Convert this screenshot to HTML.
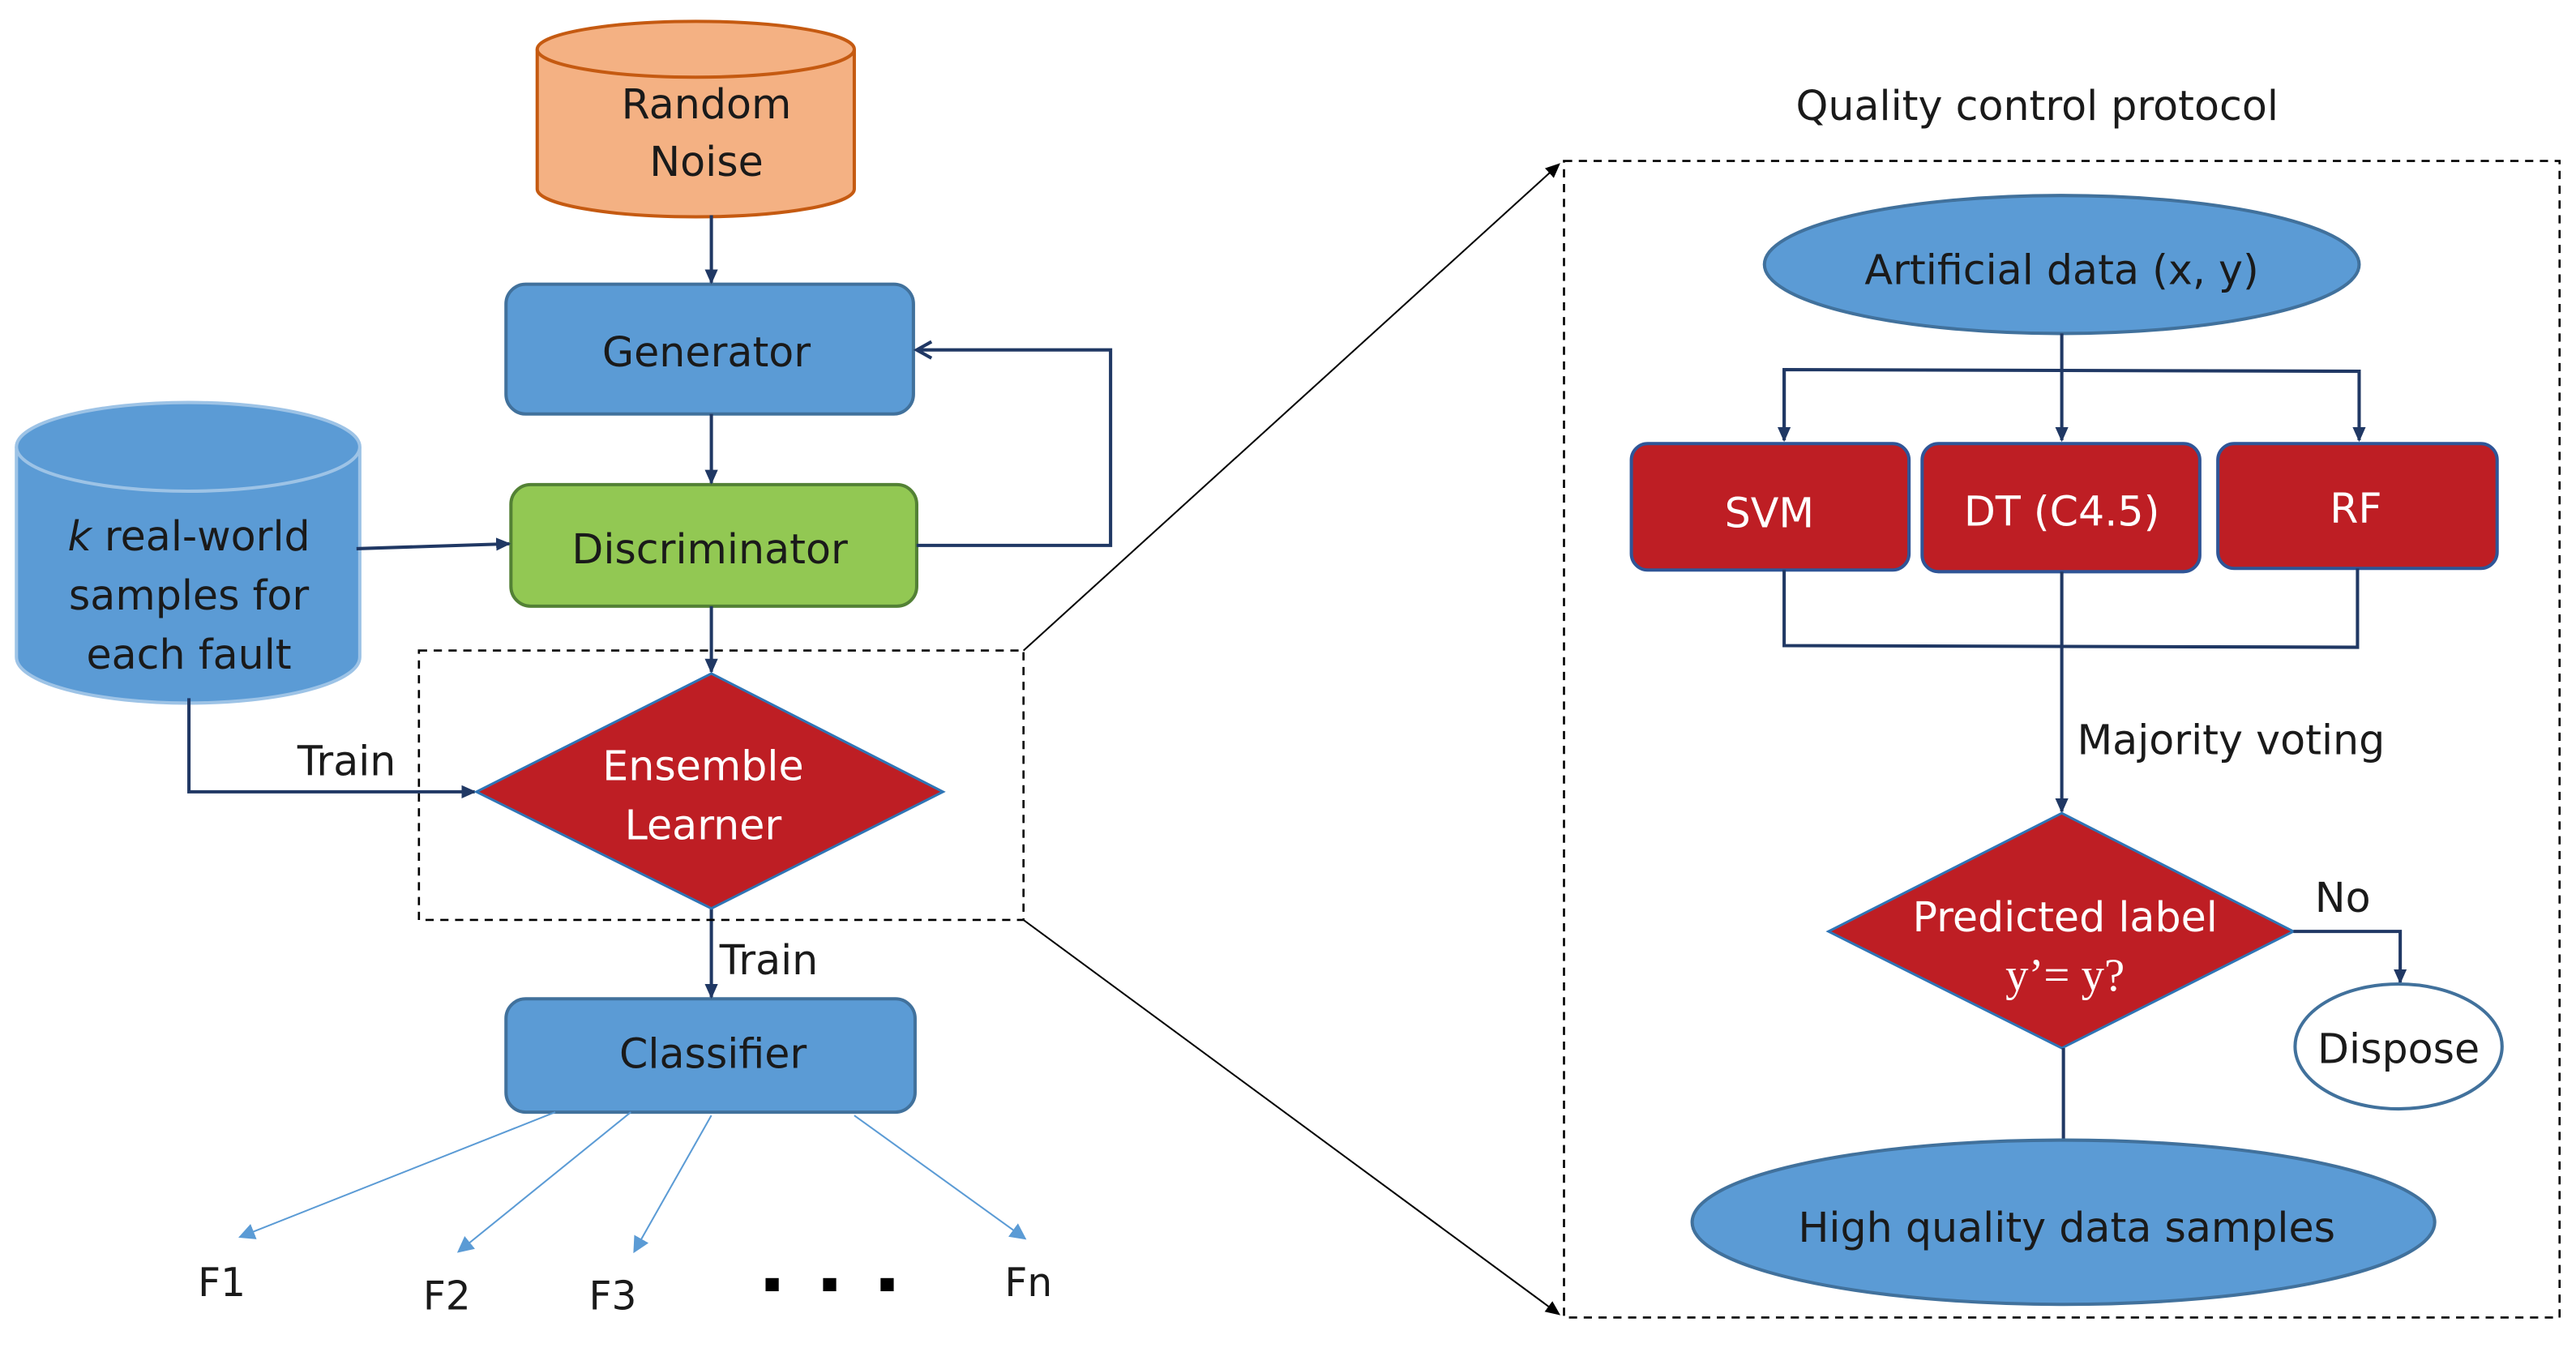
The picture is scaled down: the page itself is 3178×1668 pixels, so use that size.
<!DOCTYPE html>
<html><head><meta charset="utf-8"><style>
html,body{margin:0;padding:0;background:#fff;}
svg{display:block;}
text{font-family:"DejaVu Sans","Liberation Sans",sans-serif;}
</style></head><body>
<svg width="3178" height="1668" viewBox="0 0 1568 823" preserveAspectRatio="none" xmlns="http://www.w3.org/2000/svg">
<defs>
<marker id="a" markerWidth="10" markerHeight="10" refX="8" refY="5" orient="auto" markerUnits="userSpaceOnUse"><path d="M0,1 L9,5 L0,9 Z" fill="#203864"/></marker>
<marker id="o" markerWidth="12" markerHeight="12" refX="10" refY="6" orient="auto" markerUnits="userSpaceOnUse"><path d="M1,1 L10,6 L1,11" fill="none" stroke="#203864" stroke-width="2"/></marker>
<marker id="k" markerWidth="10" markerHeight="10" refX="8" refY="5" orient="auto" markerUnits="userSpaceOnUse"><path d="M0,1 L9,5 L0,9 Z" fill="#000"/></marker>
<marker id="l" markerWidth="12" markerHeight="12" refX="9" refY="6" orient="auto" markerUnits="userSpaceOnUse"><path d="M0,1 L10,6 L0,11 Z" fill="#5B9BD5"/></marker>
</defs>
<g fill="none" stroke="#203864" stroke-width="2">
<path d="M327,30 L327,115 A96.5,17 0 0 0 520,115 L520,30" fill="#F4B183" stroke="#C55A11"/>
<ellipse cx="423.5" cy="30" rx="96.5" ry="17" fill="#F4B183" stroke="#C55A11"/>
<path d="M10,272 L10,400 A104.5,28 0 0 0 219,400 L219,272" fill="#5B9BD5" stroke="#9DC3E6"/>
<ellipse cx="114.5" cy="272" rx="104.5" ry="27" fill="#5B9BD5" stroke="#9DC3E6"/>
<rect x="308" y="173" width="248" height="79" rx="12" fill="#5B9BD5" stroke="#41719C"/>
<rect x="311" y="295" width="247" height="74" rx="12" fill="#92C853" stroke="#538135"/>
<rect x="308" y="608" width="249" height="69" rx="12" fill="#5B9BD5" stroke="#41719C"/>
<line x1="433" y1="131" x2="433" y2="172" marker-end="url(#a)"/>
<line x1="433" y1="252" x2="433" y2="294" marker-end="url(#a)"/>
<line x1="433" y1="369" x2="433" y2="409" marker-end="url(#a)"/>
<line x1="433" y1="553" x2="433" y2="607" marker-end="url(#a)"/>
<polyline points="558,332 676,332 676,213 558,213" marker-end="url(#o)"/>
<line x1="217" y1="334" x2="310" y2="331" marker-end="url(#a)"/>
<polyline points="115,425 115,482 289,482" marker-end="url(#a)"/>
<polygon points="433,410 574,482 433,553 290,482" fill="#BE1E24" stroke="#2E75B6" stroke-width="1.5"/>
<rect x="255" y="396" width="368" height="164" stroke="#000" stroke-width="1.3" stroke-dasharray="5,4"/>
<line x1="623" y1="396" x2="949" y2="100" stroke="#000" stroke-width="1" marker-end="url(#k)"/>
<line x1="623" y1="560" x2="949" y2="800" stroke="#000" stroke-width="1" marker-end="url(#k)"/>
<g stroke="#5B9BD5" stroke-width="1">
<line x1="338" y1="677" x2="146" y2="753" marker-end="url(#l)"/>
<line x1="384" y1="677" x2="279" y2="762" marker-end="url(#l)"/>
<line x1="433" y1="679" x2="386" y2="762" marker-end="url(#l)"/>
<line x1="520" y1="679" x2="624" y2="754" marker-end="url(#l)"/>
</g>
<rect x="952" y="98" width="606" height="704" stroke="#000" stroke-width="1.3" stroke-dasharray="5,4"/>
<ellipse cx="1255" cy="161" rx="181" ry="42" fill="#5B9BD5" stroke="#41719C"/>
<line x1="1255" y1="203" x2="1255" y2="268" marker-end="url(#a)"/>
<polyline points="1086,268 1086,225 1436,226 1436,268" marker-end="url(#a)"/>
<line x1="1086" y1="225" x2="1086" y2="268" marker-end="url(#a)"/>
<rect x="993" y="270" width="169" height="77" rx="10" fill="#BE1E24" stroke="#2F5597"/>
<rect x="1170" y="270" width="169" height="78" rx="10" fill="#BE1E24" stroke="#2F5597"/>
<rect x="1350" y="270" width="170" height="76" rx="10" fill="#BE1E24" stroke="#2F5597"/>
<polyline points="1086,347 1086,393 1435,394 1435,346"/>
<line x1="1255" y1="348" x2="1255" y2="494" marker-end="url(#a)"/>
<polygon points="1255,495 1396,567 1255,638 1113,567" fill="#BE1E24" stroke="#2E75B6" stroke-width="1.5"/>
<polyline points="1396,567 1461,567 1461,598" marker-end="url(#a)"/>
<ellipse cx="1460" cy="637" rx="63" ry="38" fill="#fff" stroke="#41719C"/>
<line x1="1256" y1="638" x2="1256" y2="694"/>
<ellipse cx="1256" cy="744" rx="226" ry="50" fill="#5B9BD5" stroke="#41719C"/>
</g>
<g font-size="25" fill="#1a1a1a" text-anchor="middle">
<text x="430" y="72">Random</text>
<text x="430" y="107">Noise</text>
<text x="430" y="223">Generator</text>
<text x="432" y="343">Discriminator</text>
<text x="115" y="335"><tspan font-style="italic">k</tspan> real-world</text>
<text x="115" y="371">samples for</text>
<text x="115" y="407">each fault</text>
<text x="211" y="472">Train</text>
<text x="468" y="593">Train</text>
<text x="434" y="650">Classifier</text>
<text x="1240" y="73">Quality control protocol</text>
<text x="1255" y="173">Artificial data (x, y)</text>
<text x="1358" y="459">Majority voting</text>
<text x="1426" y="555">No</text>
<text x="1460" y="647">Dispose</text>
<text x="1258" y="756">High quality data samples</text>
</g>
<g font-size="24" fill="#1a1a1a" text-anchor="middle">
<text x="135" y="789">F1</text>
<text x="272" y="797">F2</text>
<text x="373" y="797">F3</text>
<text x="626" y="789">Fn</text>
</g>
<g fill="#000"><rect x="466" y="778" width="8" height="8"/><rect x="501" y="778" width="8" height="8"/><rect x="536" y="778" width="8" height="8"/></g>
<g font-size="25" fill="#fff" text-anchor="middle">
<text x="428" y="475">Ensemble</text>
<text x="428" y="511">Learner</text>
<text x="1077" y="321">SVM</text>
<text x="1255" y="320">DT (C4.5)</text>
<text x="1434" y="318">RF</text>
<text x="1257" y="567">Predicted label</text>
<text x="1257" y="603" style="font-family:'Liberation Serif',serif;font-size:28px;">y’= y?</text>
</g>
</svg>
</body></html>
